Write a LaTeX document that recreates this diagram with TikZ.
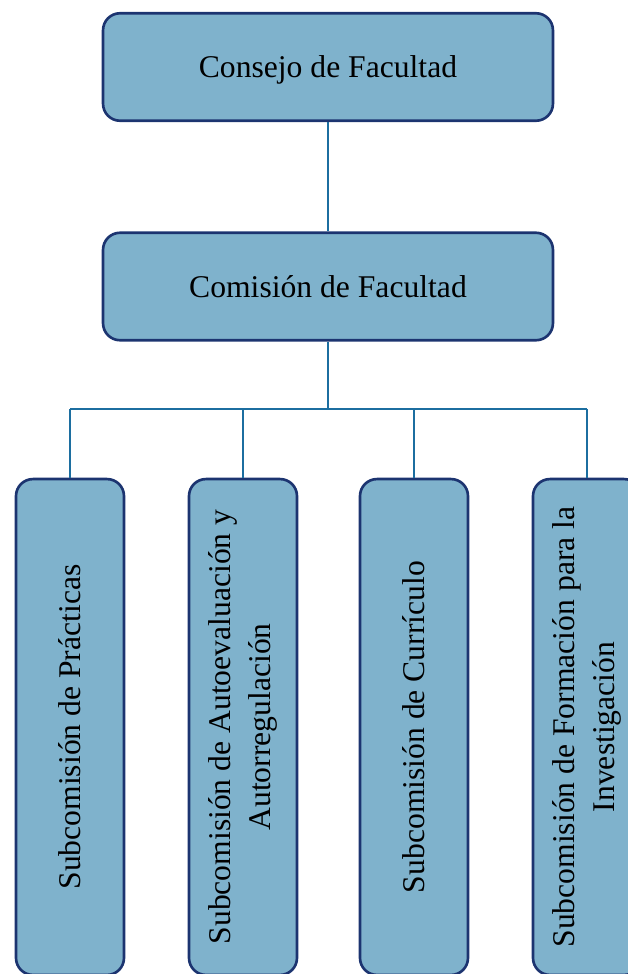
\documentclass[tikz,border=0pt]{standalone}
\usepackage{fontspec}
\setmainfont{Liberation Serif}
\definecolor{org_fill}{RGB}{127, 178, 204}
\definecolor{org_edge}{RGB}{28, 52, 112}
\definecolor{org_line}{RGB}{28, 110, 160}
\tikzstyle{hn}=[rectangle,rounded corners=0.34cm,fill=org_fill,draw=org_edge,
  line width=1.5pt,minimum width=9cm,minimum height=2.15cm,text depth=0pt,
  font=\fontsize{18}{22.8}\selectfont]
\tikzstyle{vn}=[rectangle,rounded corners=0.34cm,fill=org_fill,draw=org_edge,
  line width=1.5pt,rotate=90,minimum width=9.92cm,minimum height=2.16cm,
  inner sep=0pt,align=center,font=\fontsize{18}{22.8}\selectfont]
\tikzstyle{ln}=[draw=org_line,line width=1.6pt]

\begin{document}
\begin{tikzpicture}[x=0.02cm,y=-0.02cm]
    \clip (0,0) rectangle (628,974);
    \node [style=hn] (consejo) at (328,67) {Consejo de Facultad};
    \node [style=hn] (comision) at (328,286.5) {Comisión de Facultad};
    \coordinate (bar) at (328,409);
    \node [style=vn] (sub1) at (70,727) {Subcomisión de Prácticas};
    \node [style=vn] (sub2) at (243,727) {Subcomisión de Autoevaluación y\\Autorregulación};
    \node [style=vn] (sub3) at (414,727) {Subcomisión de Currículo};
    \node [style=vn] (sub4) at (587,727) {Subcomisión de Formación para la\\Investigación};
    \draw [style=ln] (consejo) to (comision);
    \draw [style=ln] (comision) to (bar);
    \draw [style=ln] (bar -| sub1) to (bar -| sub4);
    \foreach \n in {1,...,4}
      \draw [style=ln] (bar -| sub\n) to (sub\n);
  \end{tikzpicture}
\end{document}
